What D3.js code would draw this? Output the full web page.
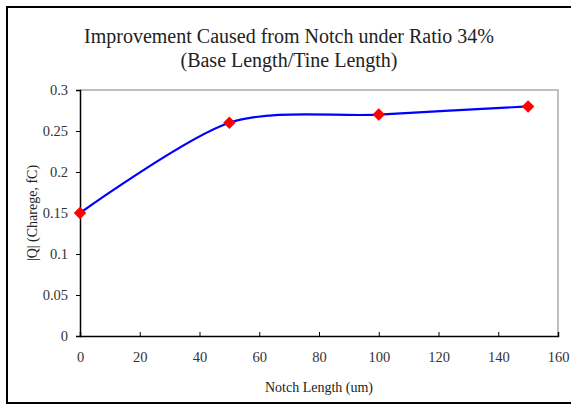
<!DOCTYPE html>
<html><head><meta charset="utf-8">
<script src="https://cdn.jsdelivr.net/npm/d3@7"></script>
<style>body{margin:0;background:#fff}svg{display:block}text{font-family:"Liberation Serif","Times New Roman",serif;fill:#222}</style>
</head><body>
<svg id="c" width="571" height="406"></svg>
<script>
const notchLength = [0, 50, 100, 150];
const charge = [0.15, 0.26, 0.27, 0.28];
const xTicks = [0, 20, 40, 60, 80, 100, 120, 140, 160];
const yTicks = [0, 0.05, 0.1, 0.15, 0.2, 0.25, 0.3];
const titleLines = ["Improvement Caused from Notch under Ratio 34%", "(Base Length/Tine Length)"];

const svg = d3.select("#c");
const m = {l: 80, r: 558, t: 90, b: 336};
const x = d3.scaleLinear().domain([0, 160]).range([m.l, m.r]);
const y = d3.scaleLinear().domain([0, 0.3]).range([m.b, m.t]);

svg.append("rect").attr("x", 7).attr("y", 7).attr("width", 600).attr("height", 396)
  .attr("fill", "none").attr("stroke", "#000").attr("stroke-width", 2);

svg.append("path").attr("d", `M${m.l},${m.t}H${m.r}V${m.b}`).attr("fill", "none")
  .attr("stroke", "#aaa").attr("stroke-width", 1.5);

const ga = svg.append("g");
const yAxis = d3.axisLeft(y).tickValues(yTicks).tickSize(4).tickPadding(8).tickFormat(d => d3.format("")(+d.toFixed(2)));
const gy = ga.append("g").attr("transform", `translate(${m.l},0)`).call(yAxis);
const xAxis = d3.axisBottom(x).tickValues(xTicks).tickSize(-4).tickPadding(16).tickFormat(d3.format("d"));
const gx = ga.append("g").attr("transform", `translate(0,${m.b})`).call(xAxis);
[gx, gy].forEach(g => {
  g.select(".domain").attr("stroke", "#000").attr("stroke-width", 1.5);
  g.selectAll(".tick line").attr("stroke", "#000").attr("stroke-width", 1);
  g.selectAll("text").style("font-family", "Liberation Serif, serif").style("font-size", "14.5px").style("fill", "#333");
});

const line = d3.line().x((d, i) => x(notchLength[i])).y(d => y(d)).curve(d3.curveCardinal.tension(0.15));
svg.append("path").datum(charge).attr("d", line).attr("fill", "none")
  .attr("stroke", "#0000ff").attr("stroke-width", 2.2);

svg.selectAll(".pt").data(charge).join("path").attr("class", "pt")
  .attr("d", d3.symbol().type(d3.symbolDiamond2).size(100))
  .attr("transform", (d, i) => `translate(${x(notchLength[i])},${y(d)})`)
  .attr("fill", "#ff0000");

svg.selectAll(".ttl").data(titleLines).join("text").attr("class", "ttl")
  .attr("x", 289).attr("y", (d, i) => 43 + i * 24).attr("text-anchor", "middle")
  .style("font-size", "20px").text(d => d);

svg.append("text").attr("x", (m.l + m.r) / 2).attr("y", 392).attr("text-anchor", "middle")
  .style("font-size", "14px").text("Notch Length (um)");
svg.append("text").attr("transform", `translate(37,${(m.t + m.b) / 2}) rotate(-90)`)
  .attr("text-anchor", "middle").style("font-size", "14px").text("|Q| (Charege, fC)");
</script>
</body></html>
